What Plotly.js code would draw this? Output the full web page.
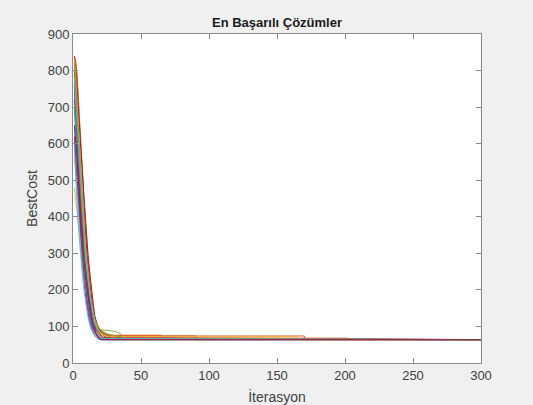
<!DOCTYPE html>
<html>
<head>
<meta charset="utf-8">
<script src="https://cdn.plot.ly/plotly-3.0.1.min.js"></script>
<style>html,body{margin:0;padding:0;background:#f0f0f0;}#chart{width:533px;height:405px;}</style>
</head>
<body>
<div id="chart"></div>
<script>
// MATLAB default colour order
const colorOrder = ['#0072BD','#D95319','#EDB120','#7E2F8E','#77AC30','#4DBEEE','#A2142F'];

// Each run: iterations (x) and BestCost (y) at change points
const run1x = [1,2,3,4,5,6,7,8,9,10,11,12,13,14,16,18,20,22,300];
const run1y = [815,760,690,600,520,450,380,330,280,240,200,170,140,115,95,80,72,64,64];
const run2x = [1,2,3,4,5,6,7,8,9,10,11,12,13,14,15,17,19,21,24,26,90,91,300];
const run2y = [830,800,740,660,570,500,440,390,350,300,260,220,190,160,135,110,95,85,78,74,74,64,64];
const run3x = [1,2,3,4,5,6,7,8,9,10,12,14,16,18,20,23,26,30,300];
const run3y = [840,810,700,590,500,420,360,300,250,210,170,140,115,95,82,74,69,64,64];
const run4x = [1,2,3,4,5,6,7,8,9,10,11,12,13,15,17,19,21,300];
const run4y = [760,640,560,500,420,360,300,250,210,180,150,130,110,90,78,68,64,64];
const run5x = [1,2,3,4,5,6,7,8,9,10,11,12,14,16,18,20,22,25,28,32,35,38,300];
const run5y = [790,720,650,560,480,410,350,300,260,230,200,175,140,115,98,90,90,90,88,85,80,66,64];
const run6x = [1,2,3,4,5,6,7,8,9,10,11,12,13,14,16,18,20,23,300];
const run6y = [610,540,470,400,340,290,250,220,195,170,150,130,115,100,85,76,70,64,64];
const run7x = [1,2,3,4,5,6,7,8,9,10,11,12,13,14,15,16,17,18,20,300];
const run7y = [720,690,650,600,540,480,420,360,320,280,240,200,170,145,125,110,95,82,70,64];
const run8x = [1,2,3,4,5,6,7,8,9,10,12,14,16,18,20,22,25,300];
const run8y = [700,620,540,470,410,350,300,260,225,195,150,120,100,88,78,70,65,64];
const run9x = [1,2,3,4,5,6,7,8,9,10,11,12,13,15,17,19,22,25,30,35,65,66,300];
const run9y = [820,770,690,610,530,470,410,350,300,260,220,185,155,120,100,88,82,78,76,76,76,66,64];
const run10x = [1,2,3,4,5,6,7,8,9,10,11,12,13,14,15,16,18,20,22,26,300];
const run10y = [560,520,480,430,380,330,290,260,230,200,175,150,130,115,100,90,80,72,68,64,64];
const run11x = [1,2,3,4,5,6,7,8,9,10,11,12,14,16,18,20,300];
const run11y = [800,700,600,500,420,340,280,230,190,160,135,115,90,76,68,64,64];
const run12x = [1,2,3,4,5,6,7,8,9,10,11,12,13,14,16,18,20,23,27,33,300];
const run12y = [780,740,680,620,560,490,430,370,320,280,245,215,185,160,125,100,85,78,72,66,64];
const run13x = [1,2,3,4,5,6,7,8,9,10,11,12,13,14,15,17,19,22,300];
const run13y = [650,560,480,410,350,300,260,240,220,200,180,160,140,120,105,85,74,65,64];
const run14x = [1,2,3,4,5,6,7,8,9,10,11,12,13,14,15,16,18,20,22,24,300];
const run14y = [840,820,770,700,630,560,490,420,360,310,270,230,195,165,140,120,100,88,80,66,64];
const run15x = [1,2,3,4,5,6,7,8,9,10,11,12,13,14,15,16,17,19,21,300];
const run15y = [820,740,650,570,500,440,380,320,270,230,195,165,140,120,105,92,82,72,64,64];
const run16x = [1,2,3,4,5,6,7,8,9,10,11,12,13,14,15,16,18,20,22,25,28,170,171,300];
const run16y = [835,825,790,730,660,590,520,450,390,340,290,250,215,180,150,128,105,92,84,79,74,74,64,64];
const run17x = [1,2,3,4,5,6,7,8,9,10,11,12,13,14,16,18,20,22,25,300];
const run17y = [480,450,420,380,340,300,270,240,210,185,165,145,125,110,90,78,70,66,64,64];
const run18x = [1,2,3,4,5,6,7,8,9,10,11,12,13,14,15,17,19,21,24,75,76,300];
const run18y = [790,730,660,590,520,450,390,340,290,250,210,180,150,125,108,90,80,72,68,68,64,64];
const run19x = [1,2,3,4,5,6,7,8,9,10,11,12,13,14,15,16,17,19,21,24,300];
const run19y = [700,660,610,560,500,440,390,340,300,265,235,205,180,155,135,118,104,86,75,66,64];
const run20x = [1,2,3,4,5,6,7,8,9,10,11,12,13,15,17,19,300];
const run20y = [590,500,430,370,320,275,235,200,170,145,125,110,95,78,69,64,64];
const run21x = [1,2,3,4,5,6,7,8,9,10,11,12,13,14,15,16,17,18,19,21,23,300];
const run21y = [800,780,740,690,640,580,520,460,400,350,300,260,220,185,155,130,110,95,84,72,65,64];
const run22x = [1,2,3,4,5,6,7,8,9,10,11,12,13,14,16,18,20,300];
const run22y = [760,700,620,540,470,400,340,290,245,210,180,155,130,110,85,72,65,64];
const run23x = [1,2,3,4,5,6,7,8,9,10,11,12,13,14,15,17,19,21,24,27,31,202,203,300];
const run23y = [770,700,630,560,500,440,390,340,300,265,230,200,175,150,130,105,90,82,76,72,68,68,64,64];
const run24x = [1,2,3,4,5,6,7,8,9,10,11,12,13,14,15,16,18,20,23,26,165,166,300];
const run24y = [830,780,720,650,580,510,440,380,330,285,245,210,180,155,135,118,95,82,76,72,72,64,64];
const run25x = [1,2,3,4,5,6,7,8,9,10,11,12,13,14,16,18,21,300];
const run25y = [620,560,500,440,380,330,285,245,210,180,155,135,118,102,84,72,64,64];
const run26x = [1,2,3,4,5,6,7,8,9,10,11,12,13,14,15,17,19,22,25,29,35,40,300];
const run26y = [810,760,700,630,560,490,420,360,310,270,235,205,178,155,135,110,95,86,80,76,72,66,64];
const run27x = [1,2,3,4,5,6,7,8,9,10,11,12,13,14,15,16,18,20,22,300];
const run27y = [780,720,660,590,520,460,400,350,300,260,225,195,170,148,128,110,88,75,67,64];
const run28x = [1,2,3,4,5,6,7,8,9,10,11,12,13,14,15,17,19,21,300];
const run28y = [650,610,560,500,440,380,330,285,245,210,180,155,133,115,100,80,70,64,64];

const runsX = [run1x,run2x,run3x,run4x,run5x,run6x,run7x,run8x,run9x,run10x,run11x,run12x,run13x,run14x,
               run15x,run16x,run17x,run18x,run19x,run20x,run21x,run22x,run23x,run24x,run25x,run26x,run27x,run28x];
const runsY = [run1y,run2y,run3y,run4y,run5y,run6y,run7y,run8y,run9y,run10y,run11y,run12y,run13y,run14y,
               run15y,run16y,run17y,run18y,run19y,run20y,run21y,run22y,run23y,run24y,run25y,run26y,run27y,run28y];

const xTicks = [0,50,100,150,200,250,300];
const yTicks = [0,100,200,300,400,500,600,700,800,900];

const traces = runsX.map((xs, i) => ({
  type: 'scatter', mode: 'lines', x: xs, y: runsY[i],
  line: {color: colorOrder[i % 7], width: 0.9},
  hoverinfo: 'skip', showlegend: false
}));

const fontFam = 'Liberation Sans, Arial, sans-serif';
const axisCommon = {
  showline: true, linecolor: '#8a8a8a', linewidth: 1, mirror: 'allticks',
  ticks: 'inside', ticklen: 5, tickcolor: '#8a8a8a', tickwidth: 1,
  showgrid: false, zeroline: false, automargin: false,
  tickfont: {family: fontFam, size: 13, color: '#404040'}
};

const layout = {
  width: 533, height: 405,
  paper_bgcolor: '#f0f0f0', plot_bgcolor: '#ffffff',
  margin: {l: 73, r: 52, t: 34, b: 42},
  title: {text: '<b>En Başarılı Çözümler</b>', x: 0.5, xref: 'paper', y: 1 - 22/405, yref: 'container', yanchor: 'middle',
          font: {family: fontFam, size: 13, color: '#1a1a1a'}},
  xaxis: Object.assign({}, axisCommon, {range: [0, 300], tickvals: xTicks, ticktext: xTicks.map(String),
          title: {text: 'İterasyon', standoff: 12, font: {family: fontFam, size: 14, color: '#404040'}}}),
  yaxis: Object.assign({}, axisCommon, {range: [0, 900], tickvals: yTicks, ticktext: yTicks.map(String),
          title: {text: 'BestCost', standoff: 6, font: {family: fontFam, size: 14, color: '#404040'}}})
};

Plotly.newPlot('chart', traces, layout, {staticPlot: true, displayModeBar: false});
</script>
</body>
</html>
